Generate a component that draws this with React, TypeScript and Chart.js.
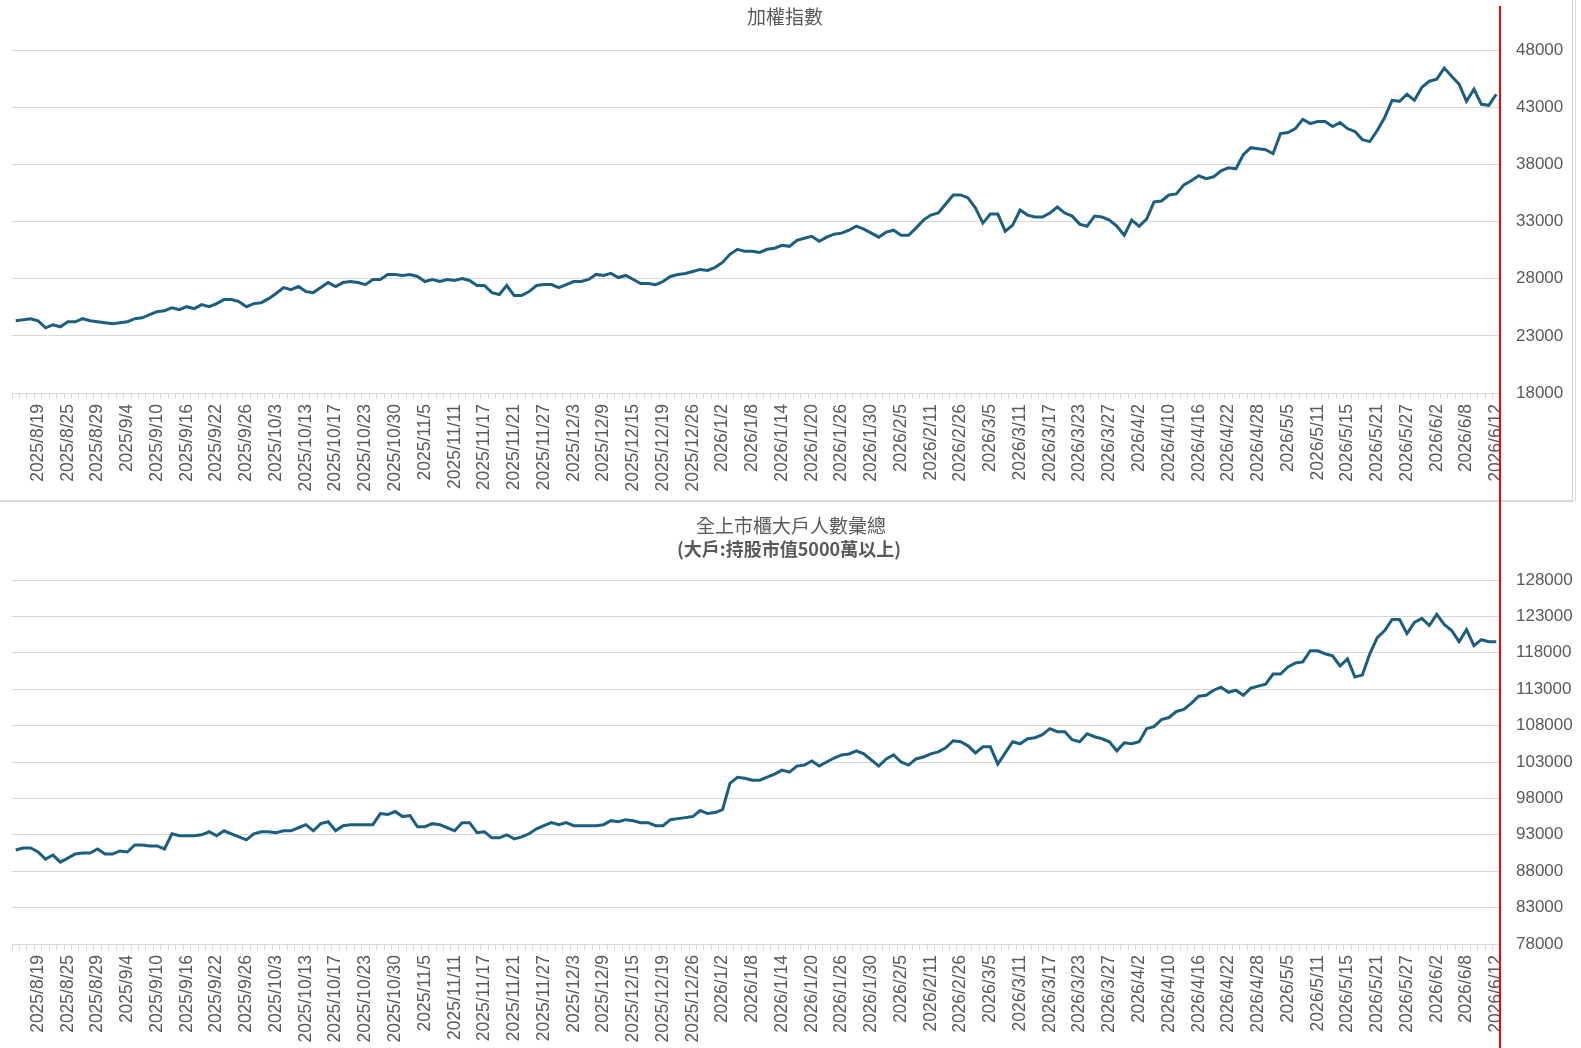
import { useEffect, useRef } from 'react'
import { Chart, registerables } from 'chart.js'
Chart.register(...registerables)

// Taiwan trading days, Aug 2025 – Jun 2026
const tradingMonths: [string, number[]][] = [
  ['2025/8', [14, 15, 18, 19, 20, 21, 22, 25, 26, 27, 28, 29]],
  ['2025/9', [1, 2, 3, 4, 5, 8, 9, 10, 11, 12, 15, 16, 17, 18, 19, 22, 23, 24, 25, 26, 30]],
  ['2025/10', [1, 2, 3, 7, 8, 9, 13, 14, 15, 16, 17, 20, 21, 22, 23, 27, 28, 29, 30, 31]],
  ['2025/11', [3, 4, 5, 6, 7, 10, 11, 12, 13, 14, 17, 18, 19, 20, 21, 24, 25, 26, 27, 28]],
  ['2025/12', [1, 2, 3, 4, 5, 8, 9, 10, 11, 12, 15, 16, 17, 18, 19, 22, 23, 24, 26, 29, 30, 31]],
  ['2026/1', [2, 5, 6, 7, 8, 9, 12, 13, 14, 15, 16, 19, 20, 21, 22, 23, 26, 27, 28, 29, 30]],
  ['2026/2', [2, 3, 4, 5, 6, 9, 10, 11, 23, 24, 25, 26]],
  ['2026/3', [2, 3, 4, 5, 6, 9, 10, 11, 12, 13, 16, 17, 18, 19, 20, 23, 24, 25, 26, 27, 30, 31]],
  ['2026/4', [1, 2, 7, 8, 9, 10, 13, 14, 15, 16, 17, 20, 21, 22, 23, 24, 27, 28, 29, 30]],
  ['2026/5', [4, 5, 6, 7, 8, 11, 12, 13, 14, 15, 18, 19, 20, 21, 22, 25, 26, 27, 28, 29]],
  ['2026/6', [1, 2, 3, 4, 5, 8, 9, 10, 11, 12]],
]
const dates = tradingMonths.flatMap(([m, days]) => days.map((d) => `${m}/${d}`))

// 加權指數
const taiex = [
  24320, 24400, 24500, 24320, 23700, 23960, 23790, 24230, 24230, 24500,
  24320, 24230, 24140, 24050, 24140, 24230, 24500, 24580, 24850, 25110,
  25200, 25460, 25290, 25550, 25380, 25730, 25550, 25820, 26170, 26170,
  26000, 25550, 25820, 25900, 26250, 26700, 27220, 27040, 27310, 26870,
  26780, 27220, 27660, 27310, 27660, 27750, 27660, 27480, 27930, 27930,
  28370, 28370, 28280, 28370, 28190, 27750, 27930, 27750, 27930, 27840,
  28020, 27840, 27400, 27400, 26780, 26610, 27400, 26520, 26520, 26870,
  27400, 27480, 27480, 27220, 27480, 27750, 27750, 27930, 28370, 28280,
  28460, 28100, 28280, 27930, 27570, 27570, 27480, 27750, 28190, 28370,
  28460, 28630, 28810, 28720, 28990, 29420, 30130, 30570, 30390, 30390,
  30300, 30570, 30660, 30920, 30830, 31360, 31540, 31710, 31270, 31630,
  31890, 31980, 32240, 32590, 32330, 31980, 31630, 32070, 32240, 31800,
  31800, 32420, 33120, 33560, 33740, 34530, 35320, 35320, 35060, 34180,
  32860, 33650, 33650, 32150, 32680, 34000, 33560, 33390, 33390, 33740,
  34270, 33740, 33470, 32770, 32590, 33470, 33390, 33120, 32590, 31800,
  33120, 32590, 33210, 34710, 34790, 35320, 35410, 36200, 36560, 37000,
  36740, 36910, 37440, 37700, 37610, 38840, 39460, 39370, 39280, 38930,
  40690, 40780, 41130, 41930, 41570, 41750, 41750, 41310, 41660, 41130,
  40870, 40160, 39990, 40960, 42100, 43600, 43510, 44130, 43600, 44740,
  45270, 45450, 46420, 45710, 45010, 43510, 44570, 43250, 43160, 44130,
]

// 全上市櫃大戶人數彙總
const bigHolders = [
  90910, 91190, 91190, 90640, 89660, 90220, 89250, 89800, 90360, 90500,
  90500, 91050, 90360, 90360, 90780, 90640, 91610, 91610, 91470, 91470,
  91050, 93140, 92860, 92860, 92860, 93000, 93420, 92860, 93550, 93140,
  92720, 92300, 93140, 93420, 93420, 93280, 93550, 93550, 93970, 94390,
  93550, 94530, 94800, 93550, 94250, 94390, 94390, 94390, 94390, 95920,
  95780, 96200, 95500, 95640, 94110, 94110, 94530, 94390, 93970, 93550,
  94670, 94670, 93280, 93420, 92580, 92580, 93000, 92440, 92720, 93140,
  93830, 94250, 94670, 94390, 94670, 94250, 94250, 94250, 94250, 94390,
  94940, 94800, 95080, 94940, 94670, 94670, 94250, 94250, 95080, 95220,
  95360, 95500, 96330, 95920, 96060, 96470, 100080, 100910, 100770, 100500,
  100500, 100910, 101330, 101890, 101610, 102440, 102580, 103140, 102440, 103000,
  103550, 103970, 104110, 104530, 104110, 103280, 102440, 103420, 103970, 103000,
  102580, 103420, 103690, 104110, 104390, 104940, 105920, 105780, 105220, 104250,
  105080, 105080, 102720, 104250, 105780, 105500, 106190, 106330, 106750, 107580,
  107170, 107170, 106060, 105780, 106890, 106470, 106190, 105780, 104530, 105640,
  105500, 105780, 107580, 107860, 108830, 109110, 109940, 110220, 111050, 112030,
  112170, 112860, 113280, 112580, 112860, 112170, 113140, 113420, 113690, 115080,
  115080, 116050, 116610, 116750, 118280, 118280, 117860, 117580, 116190, 117170,
  114670, 114940, 117860, 120080, 121060, 122580, 122580, 120640, 122170, 122720,
  121750, 123280, 121890, 121060, 119530, 121190, 118970, 119800, 119530, 119530,
]

const taiexTicks = [18000, 23000, 28000, 33000, 38000, 43000, 48000]
const holderTicks = [78000, 83000, 88000, 93000, 98000, 103000, 108000, 113000, 118000, 123000, 128000]

const LINE = '#1b5f80'
const GRID = '#d9d9d9'
const TEXT = '#595959'
const NUM_FONT = '"Liberation Sans", Arial, sans-serif'
const CJK_FONT = '"Noto Sans CJK TC", "Noto Sans", sans-serif'

interface PanelProps {
  values: number[]
  yTicks: number[]
  height: number
  areaTop: number
  xAxisHeight: number
}

function LinePanel({ values, yTicks, height, areaTop, xAxisHeight }: PanelProps) {
  const canvasRef = useRef<HTMLCanvasElement>(null)

  useEffect(() => {
    if (!canvasRef.current) return
    const chart = new Chart(canvasRef.current, {
      type: 'line',
      data: {
        labels: dates,
        datasets: [
          {
            data: values,
            borderColor: LINE,
            borderWidth: 3,
            pointRadius: 0,
            tension: 0,
            fill: false,
          },
        ],
      },
      options: {
        responsive: false,
        animation: false,
        layout: { padding: { left: 12, top: areaTop, right: 0, bottom: 0 } },
        plugins: {
          legend: { display: false },
          tooltip: { enabled: false },
        },
        scales: {
          x: {
            type: 'category',
            offset: true,
            grid: {
              display: true,
              drawOnChartArea: false,
              drawTicks: true,
              tickLength: 6,
              color: GRID,
              offset: true,
            },
            border: { display: true, color: GRID },
            ticks: {
              autoSkip: false,
              maxRotation: 90,
              minRotation: 90,
              padding: 5,
              color: TEXT,
              font: { size: 17.5, family: NUM_FONT },
              callback: (_v, i) => (i % 4 === 3 ? dates[i] : ''),
            },
            afterFit: (s) => {
              s.height = xAxisHeight
            },
          },
          y: {
            position: 'right',
            min: yTicks[0],
            max: yTicks[yTicks.length - 1],
            grid: { color: GRID, drawTicks: false },
            border: { display: false },
            ticks: {
              padding: 16,
              color: TEXT,
              font: { size: 17, family: NUM_FONT },
              callback: (v) => String(v),
            },
            afterBuildTicks: (s) => {
              s.ticks = yTicks.map((value) => ({ value }))
            },
            afterFit: (s) => {
              s.width = 72
            },
          },
        },
      },
    })
    return () => chart.destroy()
  }, [values, yTicks, areaTop, xAxisHeight])

  return <canvas ref={canvasRef} width={1572} height={height} style={{ display: 'block', width: 1572, height }} />
}

export default function App() {
  useEffect(() => {
    document.body.style.margin = '0'
  }, [])

  const titleStyle = {
    position: 'absolute' as const,
    width: 400,
    textAlign: 'center' as const,
    fontFamily: CJK_FONT,
    fontSize: 19,
    lineHeight: '20px',
    color: TEXT,
    whiteSpace: 'nowrap' as const,
  }

  return (
    <div style={{ position: 'relative', width: 1581, height: 1048, overflow: 'hidden', background: '#fff' }}>
      <div style={{ position: 'absolute', left: 0, top: 0 }}>
        <LinePanel values={taiex} yTicks={taiexTicks} height={501} areaTop={50} xAxisHeight={108} />
      </div>
      <div style={{ position: 'absolute', left: 0, top: 502 }}>
        <LinePanel values={bigHolders} yTicks={holderTicks} height={546} areaTop={78} xAxisHeight={104} />
      </div>

      <div style={{ ...titleStyle, left: 785 - 200, top: 6 }}>加權指數</div>
      <div style={{ ...titleStyle, left: 791 - 200, top: 515 }}>全上市櫃大戶人數彙總</div>
      <div style={{ ...titleStyle, left: 789 - 200, top: 538, fontSize: 18, fontWeight: 700 }}>(大戶:持股市值5000萬以上)</div>

      {/* frame of the upper sheet cell */}
      <div style={{ position: 'absolute', left: 0, top: 500, width: 1574, height: 2, background: GRID }} />
      <div style={{ position: 'absolute', left: 1572, top: 0, width: 1, height: 501, background: GRID }} />
      <div style={{ position: 'absolute', left: 1575, top: 0, width: 1, height: 501, background: GRID }} />
      <div
        style={{
          position: 'absolute',
          left: 1576,
          top: 0,
          width: 5,
          height: 501,
          backgroundImage: `repeating-linear-gradient(to bottom, transparent 0px, transparent 40px, ${GRID} 40px, ${GRID} 41px, transparent 41px, transparent 62px)`,
          backgroundSize: '5px 22px',
        }}
      />

      {/* red marker line */}
      <div style={{ position: 'absolute', left: 1499, top: 6, width: 2, bottom: 0, background: '#ff0000' }} />
    </div>
  )
}
